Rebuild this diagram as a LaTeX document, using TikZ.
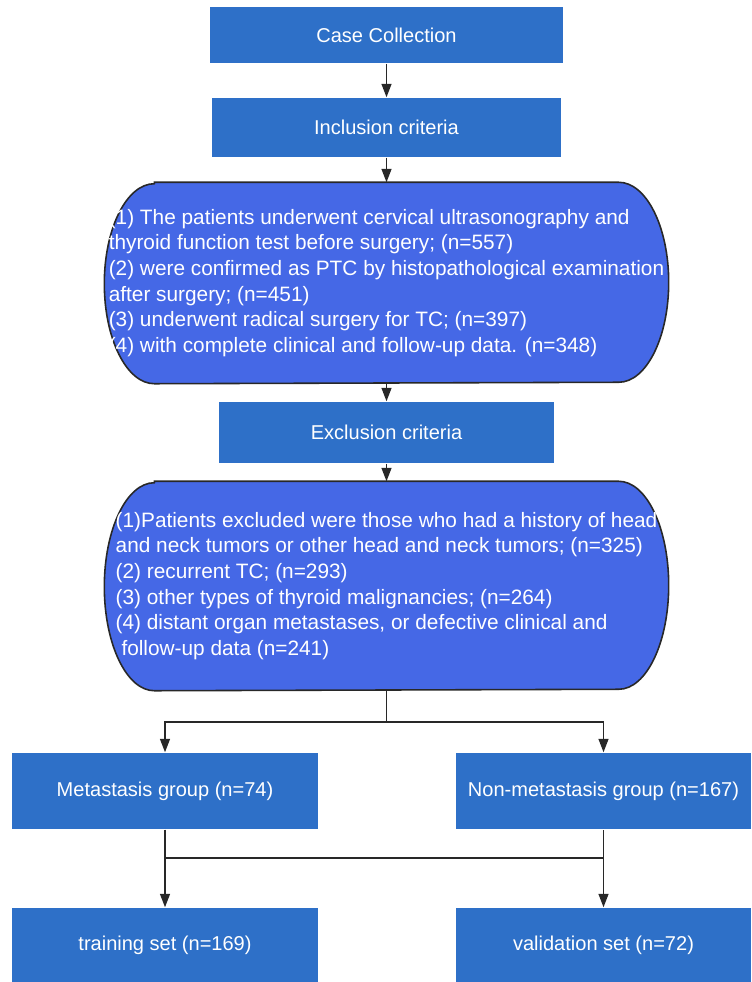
\documentclass[tikz,border=0pt]{standalone}
\usepackage{fontspec}
\setmainfont{Liberation Sans}
\usetikzlibrary{arrows.meta,calc,backgrounds}

\definecolor{boxblue}{RGB}{46,112,200}
\definecolor{capblue}{RGB}{69,104,230}
\definecolor{linegray}{RGB}{40,40,40}

\begin{document}
\begin{tikzpicture}[x=0.02cm,y=0.02cm,
    >={Triangle[length=0.27cm,width=0.2cm]},
    line width=0.85pt,draw=linegray,
    font=\fontsize{11.4}{14.6}\selectfont,
    stagebox/.style={rectangle,fill=boxblue,text=white,inner sep=0pt},
    critbox/.style={rectangle,text=white,align=left,inner sep=0pt,
      minimum width=11.26cm,font=\fontsize{11.85}{14.6}\selectfont},
    capshape/.style={fill=capblue,draw=linegray,line width=0.9pt}]

  \useasboundingbox (0,0) rectangle (751,-982);

  \node[stagebox,minimum width=7.06cm,minimum height=1.12cm] (cc) at (386.5,-35) {Case Collection};
  \node[stagebox,minimum width=7.0cm,minimum height=1.18cm] (incl) at (386.5,-127.5) {Inclusion criteria};
  \node[critbox,minimum height=4.0cm] (crit1) at (386.5,-283)
    {(1) The patients underwent cervical ultrasonography and\\
     thyroid function test before surgery; (n=557)\\
     (2) were confirmed as PTC by histopathological examination\\
     after surgery; (n=451)\\
     (3) underwent radical surgery for TC; (n=397)\\
     (4) with complete clinical and follow-up data. (n=348)};
  \node[stagebox,minimum width=6.72cm,minimum height=1.22cm] (excl) at (386.5,-432.5) {Exclusion criteria};
  \node[critbox,minimum height=4.16cm] (crit2) at (386.5,-586)
    {(1)Patients excluded were those who had a history of head\\
     and neck tumors or other head and neck tumors; (n=325)\\
     (2) recurrent TC; (n=293)\\
     (3) other types of thyroid malignancies; (n=264)\\
     (4) distant organ metastases, or defective clinical and\\
     \hspace{0.28em}follow-up data (n=241)};
  \node[stagebox,minimum width=6.12cm,minimum height=1.52cm] (met) at (165,-791) {Metastasis group (n=74)};
  \node[stagebox,minimum width=5.9cm,minimum height=1.52cm] (non) at (603.5,-791) {Non-metastasis group (n=167)};
  \node[stagebox,minimum width=6.12cm,minimum height=1.48cm] (train) at (165,-945) {training set (n=169)};
  \node[stagebox,minimum width=5.9cm,minimum height=1.48cm] (valid) at (603.5,-945) {validation set (n=72)};

  % stadium outlines behind the two criteria lists
  \begin{scope}[on background layer]
    \foreach \c/\ry in {crit1/100,crit2/104}
      \draw[capshape] ($(\c.north west)+(50,0)$) -- ($(\c.north east)+(-50,0)$)
        arc[start angle=90,end angle=-90,x radius=50,y radius=\ry]
        -- ($(\c.south west)+(50,0)$)
        arc[start angle=270,end angle=90,x radius=50,y radius=\ry] -- cycle;
  \end{scope}

  \coordinate (split) at (386.5,-722);
  \coordinate (merge) at (386.5,-858);

  \draw[->] (cc) -- (incl);
  \draw[->] (incl) -- (crit1);
  \draw[->] (crit1) -- (excl);
  \draw[->] (excl) -- (crit2);
  \draw (crit2) -- (split);
  \draw[->] (split) -| (met);
  \draw[->] (split) -| (non);
  \draw (met) -- (met |- merge) -- (non |- merge) -- (non);
  \draw[->] (met |- merge) -- (train);
  \draw[->] (non |- merge) -- (valid);

\end{tikzpicture}
\end{document}
